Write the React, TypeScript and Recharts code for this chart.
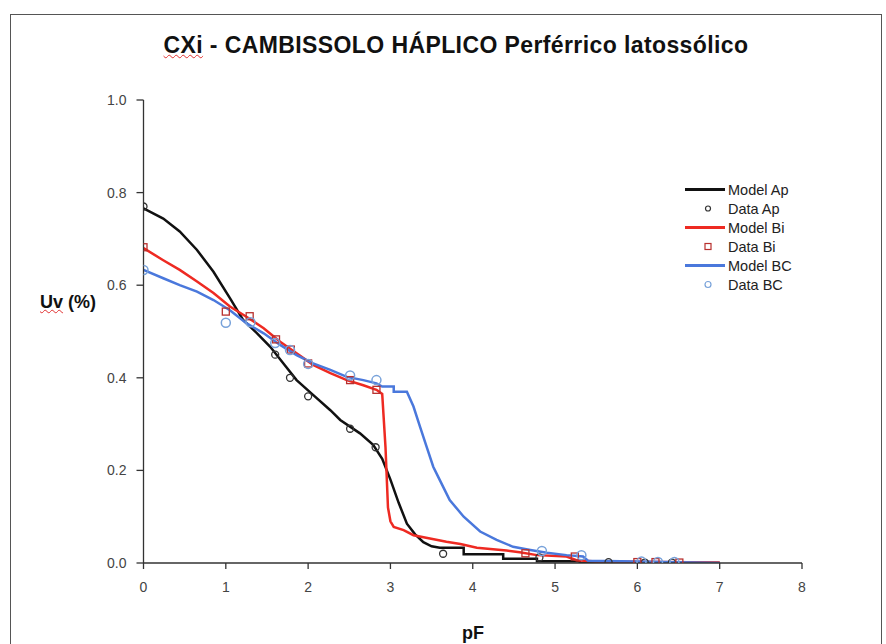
import { ComposedChart, Line, Scatter, XAxis, YAxis } from 'recharts';

// measured points (pF, volumetric water content)
const dataApPF = [0, 1.6, 1.78, 2.0, 2.51, 2.82, 3.64, 4.81, 5.65, 6.09, 6.42];
const dataApUv = [0.77, 0.45, 0.40, 0.36, 0.29, 0.25, 0.02, 0.012, 0.002, 0.001, 0.001];

const dataBiPF = [0, 1.0, 1.29, 1.61, 1.79, 2.0, 2.51, 2.83, 4.64, 5.24, 6.0, 6.22, 6.51];
const dataBiUv = [0.682, 0.543, 0.533, 0.483, 0.461, 0.431, 0.395, 0.374, 0.021, 0.014, 0.002, 0.002, 0.001];

const dataBcPF = [0, 1.0, 1.3, 1.6, 1.78, 2.0, 2.51, 2.83, 4.84, 5.32, 6.05, 6.25, 6.45];
const dataBcUv = [0.633, 0.519, 0.52, 0.475, 0.46, 0.43, 0.405, 0.395, 0.026, 0.017, 0.003, 0.002, 0.002];

// fitted curves
const modelApPF = [0, 0.24, 0.44, 0.65, 0.85, 1.05, 1.21, 1.38, 1.54, 1.7, 1.86, 2.06, 2.27, 2.39, 2.63, 2.79, 2.9, 3.0, 3.1, 3.2, 3.3, 3.4, 3.5, 3.6, 3.89, 3.89, 4.37, 4.37, 4.78, 4.78, 5.3, 5.3, 7.0];
const modelApUv = [0.766, 0.744, 0.716, 0.676, 0.629, 0.572, 0.525, 0.496, 0.467, 0.431, 0.395, 0.363, 0.33, 0.309, 0.28, 0.255, 0.225, 0.18, 0.13, 0.085, 0.062, 0.045, 0.036, 0.033, 0.033, 0.019, 0.019, 0.009, 0.009, 0.004, 0.004, 0.0, 0.0];

const modelBiPF = [0, 0.24, 0.44, 0.65, 0.85, 1.05, 1.25, 1.46, 1.66, 1.86, 2.06, 2.27, 2.47, 2.67, 2.83, 2.9, 2.94, 2.97, 3.0, 3.04, 3.16, 3.28, 3.48, 3.68, 3.85, 4.05, 4.41, 4.57, 4.78, 5.14, 5.26, 5.5, 7.0];
const modelBiUv = [0.68, 0.654, 0.633, 0.608, 0.583, 0.554, 0.532, 0.507, 0.478, 0.453, 0.428, 0.41, 0.395, 0.384, 0.374, 0.365, 0.25, 0.12, 0.09, 0.078, 0.071, 0.06, 0.053, 0.046, 0.041, 0.033, 0.027, 0.023, 0.017, 0.014, 0.006, 0.003, 0.001];

const modelBcPF = [0, 0.24, 0.44, 0.65, 0.85, 1.05, 1.25, 1.46, 1.66, 1.86, 2.06, 2.27, 2.47, 2.67, 2.83, 2.9, 3.04, 3.04, 3.2, 3.28, 3.36, 3.44, 3.52, 3.6, 3.72, 3.89, 4.09, 4.29, 4.49, 4.7, 4.9, 5.14, 5.34, 5.4, 6.0, 7.0];
const modelBcUv = [0.633, 0.615, 0.6, 0.586, 0.568, 0.546, 0.518, 0.496, 0.471, 0.449, 0.431, 0.417, 0.402, 0.395, 0.388, 0.381, 0.381, 0.37, 0.37, 0.338, 0.294, 0.251, 0.208, 0.179, 0.136, 0.1, 0.068, 0.05, 0.035, 0.028, 0.022, 0.017, 0.014, 0.005, 0.003, 0.0];

const xTicks = [0, 1, 2, 3, 4, 5, 6, 7, 8];
const yTicks = [0, 0.2, 0.4, 0.6, 0.8, 1.0];

const legendNames = ['Model Ap', 'Data Ap', 'Model Bi', 'Data Bi', 'Model BC', 'Data BC'];

const toPoints = (xs: number[], ys: number[]) => xs.map((x, i) => ({ x, y: ys[i] }));

const modelAp = toPoints(modelApPF, modelApUv);
const modelBi = toPoints(modelBiPF, modelBiUv);
const modelBc = toPoints(modelBcPF, modelBcUv);
const dataAp = toPoints(dataApPF, dataApUv);
const dataBi = toPoints(dataBiPF, dataBiUv);
const dataBc = toPoints(dataBcPF, dataBcUv);

const BLACK = '#111111';
const RED = '#ee2a22';
const BLUE = '#4a78dc';
const CIRCLE_AP = '#333333';
const SQUARE_BI = '#b8302e';
const CIRCLE_BC = '#78a2da';

const sans = '"Liberation Sans", Arial, sans-serif';

const ApDot = (p: any) => <circle cx={p.cx} cy={p.cy} r={3.5} fill="none" stroke={CIRCLE_AP} strokeWidth={1.3} />;
const BiDot = (p: any) => <rect x={p.cx - 3.5} y={p.cy - 3.5} width={7} height={7} fill="none" stroke={SQUARE_BI} strokeWidth={1.3} />;
const BcDot = (p: any) => <circle cx={p.cx} cy={p.cy} r={4.5} fill="none" stroke={CIRCLE_BC} strokeWidth={1.5} />;

function LegendBox() {
  const icons = [
    <line x1={0} y1={9.5} x2={40} y2={9.5} stroke={BLACK} strokeWidth={3} />,
    <circle cx={23} cy={9.5} r={2.5} fill="none" stroke={CIRCLE_AP} strokeWidth={1.2} />,
    <line x1={0} y1={9.5} x2={40} y2={9.5} stroke={RED} strokeWidth={3} />,
    <rect x={20} y={6.5} width={6} height={6} fill="none" stroke={SQUARE_BI} strokeWidth={1.2} />,
    <line x1={0} y1={9.5} x2={40} y2={9.5} stroke={BLUE} strokeWidth={3} />,
    <circle cx={23} cy={9.5} r={3} fill="none" stroke={CIRCLE_BC} strokeWidth={1.2} />,
  ];
  return (
    <div style={{ position: 'absolute', left: 685, top: 180 }}>
      {legendNames.map((name, i) => (
        <div key={name} style={{ display: 'flex', alignItems: 'center', height: 19 }}>
          <svg width={43} height={19}>{icons[i]}</svg>
          <span style={{ fontFamily: sans, fontSize: 14.5, color: '#222' }}>{name}</span>
        </div>
      ))}
    </div>
  );
}

export default function App() {
  return (
    <div style={{ position: 'fixed', left: 0, top: 0, width: 886, height: 644, overflow: 'hidden', background: '#fff' }}>
      <div style={{ position: 'absolute', left: 10, top: 14, width: 870, height: 680, border: '1.5px solid #555' }} />
      <div style={{ position: 'absolute', left: 0, top: 0 }}>
        <ComposedChart width={886} height={644} margin={{ top: 100, right: 84, left: 83.5, bottom: 41 }}>
          <XAxis
            type="number"
            dataKey="x"
            domain={[0, 8]}
            ticks={xTicks}
            allowDataOverflow
            height={40}
            tickSize={6}
            tickMargin={13}
            axisLine={{ stroke: '#333', strokeWidth: 1.3 }}
            tickLine={{ stroke: '#333', strokeWidth: 1.3 }}
            tick={{ fill: '#444', fontSize: 14, fontFamily: sans }}
          />
          <YAxis
            type="number"
            dataKey="y"
            domain={[0, 1]}
            ticks={yTicks}
            allowDataOverflow
            width={60}
            tickSize={7}
            tickMargin={10}
            tickFormatter={(v: number) => v.toFixed(1)}
            axisLine={{ stroke: '#333', strokeWidth: 1.3 }}
            tickLine={{ stroke: '#333', strokeWidth: 1.3 }}
            tick={{ fill: '#444', fontSize: 14, fontFamily: sans }}
          />
          <Line data={modelAp} dataKey="y" name="Model Ap" type="linear" stroke={BLACK} strokeWidth={2.5} dot={false} isAnimationActive={false} />
          <Scatter data={dataAp} dataKey="y" name="Data Ap" shape={ApDot} isAnimationActive={false} />
          <Line data={modelBi} dataKey="y" name="Model Bi" type="linear" stroke={RED} strokeWidth={2.5} dot={false} isAnimationActive={false} />
          <Scatter data={dataBi} dataKey="y" name="Data Bi" shape={BiDot} isAnimationActive={false} />
          <Line data={modelBc} dataKey="y" name="Model BC" type="linear" stroke={BLUE} strokeWidth={2.5} dot={false} isAnimationActive={false} />
          <Scatter data={dataBc} dataKey="y" name="Data BC" shape={BcDot} isAnimationActive={false} />
        </ComposedChart>
      </div>
      <LegendBox />
      <div style={{ position: 'absolute', left: 0, width: 912, top: 32, textAlign: 'center', fontFamily: sans, fontWeight: 'bold', fontSize: 23, letterSpacing: 0.4, color: '#111' }}>
        <span style={{ textDecoration: 'underline wavy #e03030', textDecorationThickness: 1 }}>CXi</span> - CAMBISSOLO HÁPLICO Perférrico latossólico
      </div>
      <div style={{ position: 'absolute', left: 40, top: 292, fontFamily: sans, fontWeight: 'bold', fontSize: 18, color: '#111' }}>
        <span style={{ textDecoration: 'underline wavy #e03030', textDecorationThickness: 1 }}>Uv</span> (%)
      </div>
      <div style={{ position: 'absolute', left: 143, width: 660, top: 623, textAlign: 'center', fontFamily: sans, fontWeight: 'bold', fontSize: 18, color: '#111' }}>
        pF
      </div>
    </div>
  );
}
